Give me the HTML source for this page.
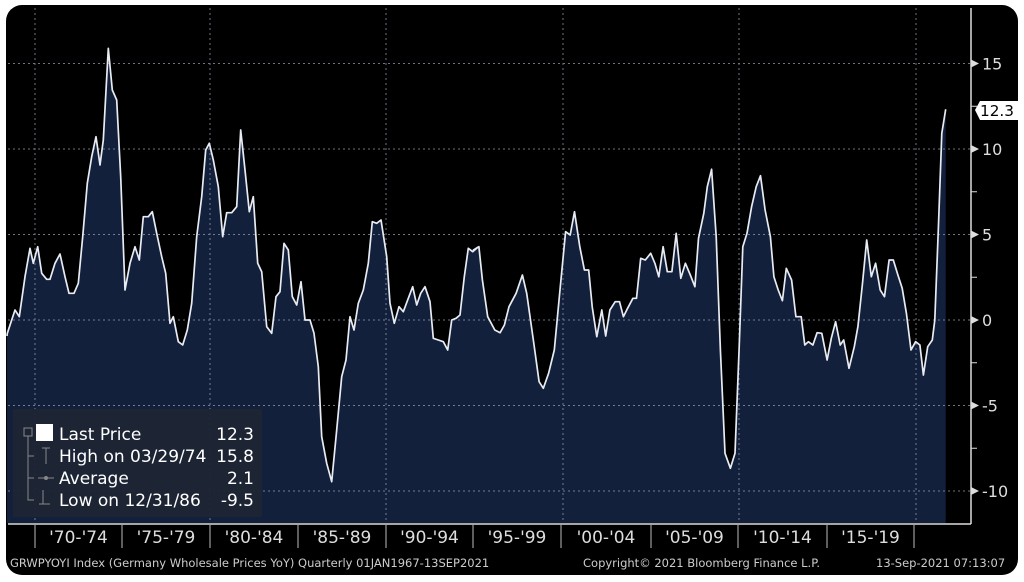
<!DOCTYPE html>
<html><head><meta charset="utf-8"><style>
html,body{margin:0;padding:0;background:#fff;width:1024px;height:582px;overflow:hidden}
svg{display:block}
text{font-family:"DejaVu Sans","Liberation Sans",sans-serif}
</style></head><body>
<svg id="s" width="1024" height="582" viewBox="0 0 1024 582">
<rect x="6" y="5" width="1012" height="570" rx="16" fill="#000"/>
<path id="area" fill="#13203c"/>
<g id="grid" stroke="#8a93a3" stroke-width="1" stroke-dasharray="2,3" opacity="0.8"></g>
<path id="line" fill="none" stroke="#e8ecf2" stroke-width="1.7" stroke-linejoin="round"/>
<line x1="971" y1="8" x2="971" y2="524" stroke="#ddd" stroke-width="1.5"/>
<line x1="8" y1="524" x2="971" y2="524" stroke="#ddd" stroke-width="1.5"/>
<g id="axis" fill="#ddd" font-size="16"></g>
<g id="xl" fill="#ddd" font-size="17"></g>
<path d="M975,110 L980,101 L1019,101 L1019,120 L980,120 Z" fill="#fff"/>
<text x="980" y="116" font-size="15" fill="#000" textLength="34" lengthAdjust="spacingAndGlyphs">12.3</text>
<rect x="13" y="409" width="249" height="108" fill="#1d2534" opacity="0.95" rx="2"/>
<g fill="#fff" font-size="17">
<rect x="36" y="424" width="17" height="17" fill="#fff"/>
<text x="59" y="440">Last Price</text><text x="254" y="440" text-anchor="end">12.3</text>
<text x="59" y="462">High on 03/29/74</text><text x="254" y="462" text-anchor="end">15.8</text>
<text x="59" y="484">Average</text><text x="254" y="484" text-anchor="end">2.1</text>
<text x="59" y="506">Low on 12/31/86</text><text x="254" y="506" text-anchor="end">-9.5</text>
</g>
<g stroke="#888" fill="none" stroke-width="1">
<rect x="24" y="428" width="8" height="8"/>
<path d="M28,436 V500 H34 M28,456 H34 M28,478 H34"/>
<path d="M42,448 H50 M46,448 V464 M38,478 H54 M43,490 V504 M39,504 H50"/>
</g>
<circle cx="46" cy="478" r="2" fill="#888"/>
<text x="10" y="567" font-size="11.5" fill="#ccc">GRWPYOYI Index (Germany Wholesale Prices YoY)  Quarterly 01JAN1967-13SEP2021</text>
<text x="583" y="567" font-size="11.5" fill="#ccc">Copyright© 2021 Bloomberg Finance L.P.</text>
<text x="876" y="567" font-size="11.5" fill="#ccc">13-Sep-2021 07:13:07</text>
</svg>
<script>
var a=[[22,910],[45,840],[58,860],[75,740],[90,655],[100,700],[113,650],[125,730],[140,748],[150,748],[165,700],[180,672],[195,740],[207,790],[222,790],[235,760],[248,620],[262,460],[275,380],[288,320],[300,405],[310,330],[325,55],[337,180],[350,210],[362,440],[375,780],[390,700],[405,650],[418,690],[430,560],[445,560],[457,545],[470,610],[485,680],[497,730],[510,880],[520,860],[535,935],[548,945],[562,900],[575,820],[590,620],[605,500],[617,360],[628,340],[640,390],[655,470],[668,620],[680,548],[695,548],[710,530],[722,300],[735,420],[748,545],[760,500],[773,700],[785,725],[800,890],[815,910],[828,800],[840,785],[852,640],[865,660],[877,800],[890,825],[903,755],[915,870],[930,870],[942,910],[955,1010],[965,1220],[980,1300],[995,1355],[1010,1200],[1025,1040],[1038,990],[1050,860],[1062,900],[1075,820],[1090,780],[1105,700],[1117,575],[1130,580],[1143,570],[1160,680],[1170,820],[1183,880],[1197,830],[1210,845],[1225,805],[1238,770],[1250,825],[1262,790],[1275,770],[1290,815],[1300,925],[1315,930],[1330,935],[1343,960],[1355,870],[1368,865],[1380,855],[1393,740],[1405,655],[1418,665],[1433,652]];
var b=[[10,660],[25,650],[35,750],[50,860],[70,900],[85,908],[97,885],[110,830],[130,790],[148,735],[160,790],[180,940],[195,1055],[207,1075],[222,1030],[238,960],[255,770],[270,605],[283,615],[295,545],[310,650],[323,720],[335,720],[345,830],[358,920],[372,840],[383,918],[395,840],[410,815],[422,815],[433,860],[445,835],[460,805],[470,805],[482,685],[495,690],[510,670],[522,700],[533,740],[545,650],[557,725],[570,725],[582,610],[595,745],[608,700],[622,735],[635,770],[645,625],[660,550],[670,470],[682,418],[695,620],[707,960],[720,1270],[735,1315],[748,1270],[760,950],[770,650],[782,610],[795,530],[808,470],[820,437],[833,540],[848,620],[858,740],[870,780],[882,812],[893,715],[908,750],[920,860],[935,860],[945,945],[955,935],[968,945],[980,908],[993,910],[1008,990],[1020,925],[1032,875],[1045,945],[1055,930],[1070,1015],[1085,950],[1095,890],[1108,760],[1120,630],[1133,740],[1145,700],[1158,780],[1170,800],[1183,690],[1195,690],[1208,735],[1220,775],[1232,850],[1245,960],[1258,935],[1270,945],[1280,1035],[1292,950],[1305,930],[1312,870],[1322,600],[1332,310],[1343,238]];
var p=[[7,336]];
a.forEach(function(q){p.push([q[0]/3,q[1]/3+30]);});
b.forEach(function(q){p.push([q[0]/2.823+470,q[1]/3+30]);});
var d=p.map(function(q,i){return (i?'L':'M')+q[0].toFixed(1)+','+q[1].toFixed(1);}).join('');
document.getElementById('line').setAttribute('d',d);
var last=p[p.length-1];
document.getElementById('area').setAttribute('d',d+'L'+last[0].toFixed(1)+',523L7,523Z');
var ns='http://www.w3.org/2000/svg',g=document.getElementById('grid'),ax=document.getElementById('axis'),xl=document.getElementById('xl');
function el(t,at,par,txt){var e=document.createElementNS(ns,t);for(var k in at)e.setAttribute(k,at[k]);if(txt)e.textContent=txt;par.appendChild(e);return e;}
[15,10,5,0,-5,-10].forEach(function(v){var y=320-17.1*v;el('line',{x1:8,x2:970,y1:y,y2:y},g);
el('path',{d:'M971,'+(y-4)+' L979,'+y+' L971,'+(y+4)+'Z',fill:'#ddd'},ax);
el('text',{x:982,y:y+6},ax,String(v));});
[12.5,7.5,2.5,-2.5,-7.5].forEach(function(v){var y=320-17.1*v;el('line',{x1:971,x2:977,y1:y,y2:y,stroke:'#ddd'},ax);});
[35,210,386,563,739,916].forEach(function(x){el('line',{x1:x,x2:x,y1:8,y2:523},g);});
var sep=[35,122,210,298,386,473,561,651,738,827,914],lab=["'70-'74","'75-'79","'80-'84","'85-'89","'90-'94","'95-'99","'00-'04","'05-'09","'10-'14","'15-'19"];
sep.forEach(function(x){el('line',{x1:x,x2:x,y1:525,y2:548,stroke:'#bbb'},xl);});
lab.forEach(function(t,i){el('text',{x:(sep[i]+sep[i+1])/2,y:543,'text-anchor':'middle'},xl,t);});
</script>
</body></html>
